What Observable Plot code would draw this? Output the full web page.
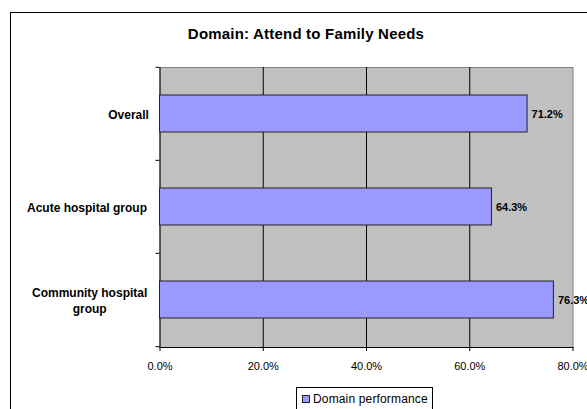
<!DOCTYPE html>
<html>
<head>
<meta charset="utf-8">
<script src="https://cdn.jsdelivr.net/npm/d3@7"></script>
<script src="https://cdn.jsdelivr.net/npm/@observablehq/plot@0.6"></script>
<style>
  html, body { margin: 0; padding: 0; background: #fff; }
  #chart {
    position: relative; width: 587px; height: 409px; overflow: hidden;
    font-family: "Liberation Sans", Arial, sans-serif; color: #000; background: #fff;
  }
  #frame {
    position: absolute; left: 10px; top: 12px; width: 800px; height: 600px;
    border: 1px solid #000; box-sizing: border-box;
  }
  #title {
    position: absolute; left: 0; top: 26px; width: 612px; text-align: center;
    font-size: 15px; line-height: 15px; font-weight: bold; letter-spacing: 0.2px;
  }
  #plot { position: absolute; left: 0; top: 56px; }
  #plot g[aria-label="category-label"] text { letter-spacing: 0.3px; }
  #plot g[aria-label="value-label"] text { letter-spacing: 0.1px; }
  #legend {
    position: absolute; left: 296px; top: 387px; width: 137px; height: 40px;
    border: 1px solid #000; box-sizing: border-box; background: #fff;
    font-size: 12px; line-height: 14px; padding: 4px 0 0 5px; white-space: nowrap;
    letter-spacing: 0.15px;
  }
  #legend .swatch {
    display: inline-block; width: 6px; height: 6px; background: #9999ff;
    border: 1px solid #222; margin-right: 3px; vertical-align: 0px;
  }
</style>
</head>
<body>
<div id="chart">
  <div id="frame"></div>
  <div id="title">Domain: Attend to Family Needs</div>
  <div id="plot"></div>
  <div id="legend"><span class="swatch"></span>Domain performance</div>
</div>
<script>
// Share of family needs attended to, by hospital group
const categories = ["Overall", "Acute hospital group", "Community hospital group"];
const categoryLabels = ["Overall", "Acute hospital group", "Community hospital\ngroup"];
const performance = [0.712, 0.643, 0.763];
const xTicks = [0, 0.2, 0.4, 0.6, 0.8];

const rows = categories.map((c, i) => ({category: c, label: categoryLabels[i], value: performance[i]}));

const fontFamily = '"Liberation Sans", Arial, sans-serif';
const width = 587, height = 320;
const margin = {top: 11, right: 14.5, bottom: 29, left: 159.5};
const step = (height - margin.top - margin.bottom) / categories.length;

// width of the widest line of a category label, for centring the label block
const labelSize = 12, labelSpacing = 0.3;
const ctx = document.createElement("canvas").getContext("2d");
ctx.font = `bold ${labelSize}px ${fontFamily}`;
const labelWidth = (s) =>
  Math.max(...s.split("\n").map((l) => ctx.measureText(l).width + labelSpacing * l.length));

const labelMarks = rows.map((r) =>
  Plot.text([r], {
    y: "category", text: "label", frameAnchor: "left", textAnchor: "middle",
    dx: -(10 + labelWidth(r.label) / 2), lineHeight: 1.3,
    fontSize: labelSize, fontWeight: "bold", fill: "#000", ariaLabel: "category-label"
  })
);

const chart = Plot.plot({
  width, height,
  marginTop: margin.top, marginRight: margin.right,
  marginBottom: margin.bottom, marginLeft: margin.left,
  style: {fontFamily, background: "transparent", overflow: "visible"},
  x: {domain: [0, 0.8]},
  y: {domain: categories, paddingInner: 0.6, paddingOuter: 0.3},
  marks: [
    Plot.frame({fill: "#c0c0c0", stroke: "#808080"}),
    Plot.ruleX(xTicks.slice(1, -1), {stroke: "#000", strokeWidth: 1}),
    Plot.ruleX([0], {stroke: "#000"}),
    Plot.frame({anchor: "bottom", stroke: "#000"}),
    Plot.barX(rows, {x: "value", y: "category", fill: "#9999ff", stroke: "#222", strokeWidth: 1}),
    Plot.text(rows, {
      x: "value", y: "category", text: (d) => d3.format(".1%")(d.value),
      textAnchor: "start", dx: 4, fontSize: 11, fontWeight: "bold", fill: "#000",
      ariaLabel: "value-label"
    }),
    Plot.axisX({ticks: xTicks, tickFormat: ".1%", tickSize: 4, tickPadding: 11, fontSize: 11, label: null, stroke: "#000"}),
    Plot.axisY({tickSize: 4, text: null, label: null, dy: -step / 2, stroke: "#000"}),
    Plot.axisY([categories[categories.length - 1]], {tickSize: 4, text: null, label: null, dy: step / 2, stroke: "#000"}),
    ...labelMarks
  ]
});

document.getElementById("plot").appendChild(chart);
</script>
</body>
</html>
